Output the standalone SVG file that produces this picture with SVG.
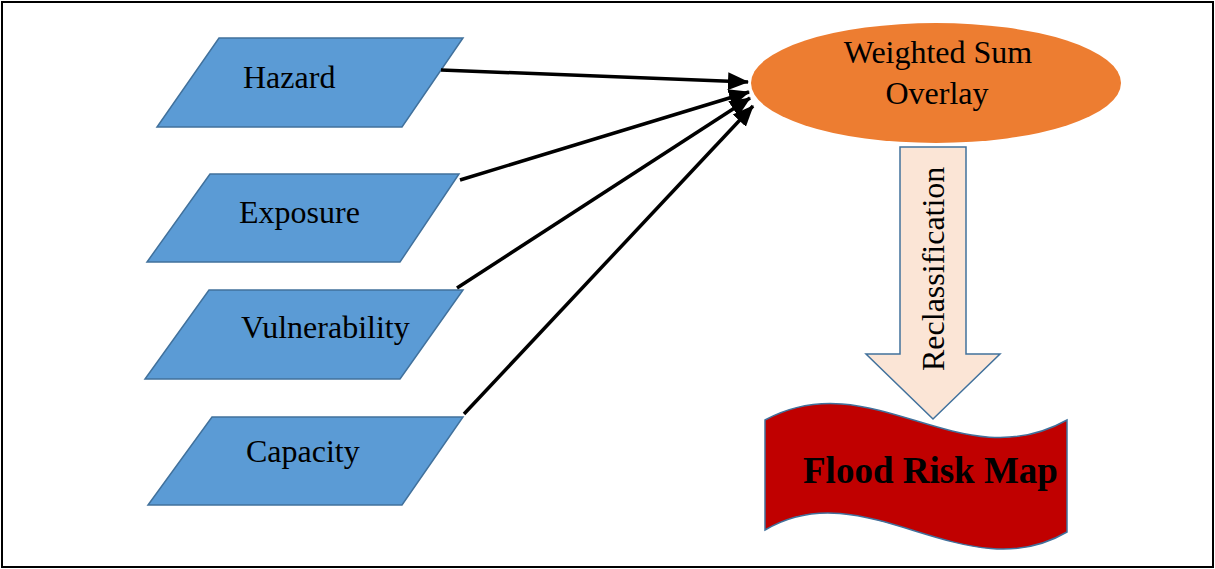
<svg xmlns="http://www.w3.org/2000/svg" width="1215" height="569" viewBox="0 0 1215 569">
<style>
.para{fill:#5B9BD5;stroke:#41719C;stroke-width:1.5}
.lbl{font-family:"Liberation Serif",serif;font-size:32px;fill:#000}
.conn{stroke:#000;stroke-width:3.5;fill:none;marker-end:url(#ah)}
</style>
<defs>
<marker id="ah" markerUnits="userSpaceOnUse" markerWidth="22" markerHeight="20" refX="20" refY="10" orient="auto">
<path d="M0,1 L21,10 L0,19 Z" fill="#000"/>
</marker>
</defs>
<rect x="2" y="2" width="1211" height="565" fill="#fff" stroke="#000" stroke-width="2"/>
<g id="hazard">
<polygon class="para" points="219,38 463,38 402,127 157,127"/>
<text class="lbl" x="243" y="88">Hazard</text>
</g>
<g id="exposure">
<polygon class="para" points="210,174 459,174 400,262 147,262"/>
<text class="lbl" x="239" y="223">Exposure</text>
</g>
<g id="vulnerability">
<polygon class="para" points="209,290 463,290 400,379 145,379"/>
<text class="lbl" x="241" y="338">Vulnerability</text>
</g>
<g id="capacity">
<polygon class="para" points="212,417 463,417 402,505 148,505"/>
<text class="lbl" x="246" y="462">Capacity</text>
</g>
<g id="overlay">
<ellipse cx="936" cy="83" rx="185" ry="60" fill="#ED7D31"/>
<text class="lbl" x="938" y="63" text-anchor="middle">Weighted Sum</text>
<text class="lbl" x="937" y="104" text-anchor="middle">Overlay</text>
</g>
<g id="reclassification">
<polygon points="900,147 966,147 966,354 1000,354 933,419 866,354 900,354" fill="#FBE5D6" stroke="#41719C" stroke-width="1.5"/>
<text class="lbl" transform="translate(944,371) rotate(-90)">Reclassification</text>
</g>
<g id="floodmap">
<path d="M765,420 C872,362 960,480 1067,420 L1067,532 C965,592 865,470 765,530 Z" fill="#C00000" stroke="#41719C" stroke-width="1.5"/>
<text x="803" y="483" font-family="Liberation Serif, serif" font-weight="bold" font-size="37" fill="#000">Flood Risk Map</text>
</g>
<g id="connectors">
<line class="conn" x1="441" y1="70" x2="748" y2="82"/>
<line class="conn" x1="460" y1="180" x2="749" y2="92"/>
<line class="conn" x1="457" y1="288" x2="750" y2="98"/>
<line class="conn" x1="464" y1="414" x2="753" y2="106"/>
</g>
</svg>
